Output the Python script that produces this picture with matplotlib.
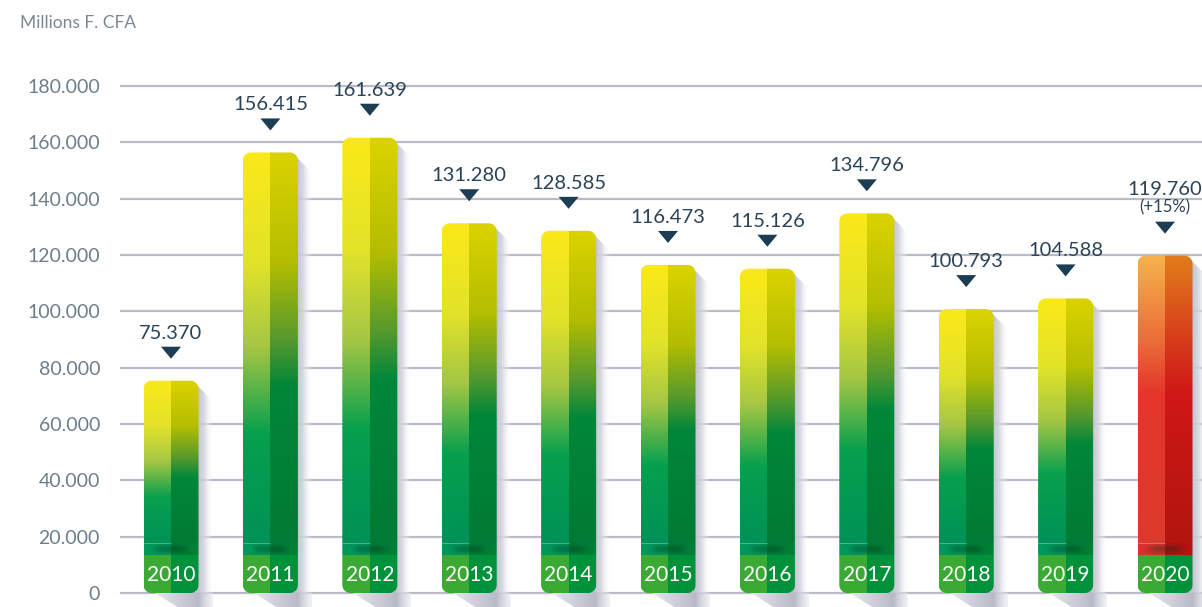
import numpy as np
import matplotlib
matplotlib.use("Agg")
import matplotlib.pyplot as plt
from matplotlib.patches import Polygon
from matplotlib.colors import to_rgb

# ---------------- data ----------------
years = ["2010", "2011", "2012", "2013", "2014", "2015", "2016", "2017", "2018", "2019", "2020"]
values = [75370, 156415, 161639, 131280, 128585, 116473, 115126, 134796, 100793, 104588, 119760]
highlight_year = "2020"
highlight_note = "(+15%)"
y_ticks = [0, 20000, 40000, 60000, 80000, 100000, 120000, 140000, 160000, 180000]
unit_label = "Millions F. CFA"

FONT = "Lato"
plt.rcParams["font.family"] = [FONT, "DejaVu Sans"]

W, H = 1202, 607
fig = plt.figure(figsize=(W / 100, H / 100), dpi=100)
fig.patch.set_facecolor("white")

ax_left_px = 120
ax = fig.add_axes([ax_left_px / W, 0, (W - ax_left_px) / W, 1])

spacing_px = 99.4
first_center_px = 171
base_px = 593       # pixel row of y=0 (from top)
top_px = 86         # pixel row of y=180000
PX_X = 1 / spacing_px
PX_Y = 180000 / (base_px - top_px)

xlim = ((ax_left_px - first_center_px) * PX_X, (W - first_center_px) * PX_X)
ylim = (-(H - base_px) * PX_Y, base_px * PX_Y)

def fmt(v):
    return f"{v:,}".replace(",", ".")

def vgrad(stops, n=256):
    """vertical gradient; stops: list of (t, color), t=0 top."""
    ts = np.array([s[0] for s in stops])
    cols = np.array([to_rgb(s[1]) for s in stops])
    t = np.linspace(0, 1, n)
    arr = np.stack([np.interp(t, ts, cols[:, i]) for i in range(3)], axis=-1)
    return arr[:, None, :]

def hgrad_rgba(stops, n=128):
    """horizontal gradient; stops: (t, color, alpha)."""
    ts = np.array([s[0] for s in stops])
    cols = np.array([to_rgb(s[1]) + (s[2],) for s in stops])
    t = np.linspace(0, 1, n)
    arr = np.stack([np.interp(t, ts, cols[:, i]) for i in range(4)], axis=-1)
    return arr[None, :, :]

def rounded_rect(x0, y0, x1, y1, r_px):
    """Rounded rectangle polygon in data coords, radius given in pixels."""
    rx, ry = r_px * PX_X, r_px * PX_Y
    pts = []
    corners = [(x1 - rx, y1 - ry, 0, 90), (x0 + rx, y1 - ry, 90, 180),
               (x0 + rx, y0 + ry, 180, 270), (x1 - rx, y0 + ry, 270, 360)]
    for cx, cy, a0, a1 in corners:
        for a in np.linspace(np.radians(a0), np.radians(a1), 12):
            pts.append((cx + rx * np.cos(a), cy + ry * np.sin(a)))
    return Polygon(pts, closed=True, transform=ax.transData, facecolor="none", edgecolor="none")

green_left = [(0, "#fbe918"), (0.28, "#e2e32a"), (0.5, "#a4c644"), (0.72, "#07a04e"), (1, "#009257")]
green_right = [(0, "#dbd300"), (0.28, "#b4be00"), (0.48, "#55992e"), (0.6, "#00873a"), (1, "#007a34")]
red_left = [(0, "#f6b34c"), (0.3, "#ea6c37"), (0.48, "#e4352b"), (1, "#db3a2c")]
red_right = [(0, "#e17d1a"), (0.3, "#d63b1b"), (0.48, "#cf1817"), (1, "#b3150f")]

bar_w_px = 55
box_h = 38 * PX_Y
strip_h = 12 * PX_Y
corner_px = 8

# soft dark blob (shadow on top of label box)
gx = np.linspace(-1, 1, 60)
gy = np.linspace(-1, 1, 30)
GX, GY = np.meshgrid(gx, gy)
blob = np.zeros((30, 60, 4))
blob[..., 1] = 0.18
blob[..., 2] = 0.08
blob[..., 3] = 0.35 * np.exp(-(GX ** 4) / 0.3 - (GY ** 2) / 0.5)

# gridlines
for t in y_ticks:
    ax.axhline(t, color="#b9bcc8", lw=1.6, zorder=0)

for i, (yr, v) in enumerate(zip(years, values)):
    x = i
    hw = bar_w_px / 2 * PX_X
    xl, xr = x - hw, x + hw
    hi = (yr == highlight_year)

    # shadow right of bar
    sh = Polygon([(xr - 3 * PX_X, v - 3 * PX_Y), (xr + 14 * PX_X, v - 20 * PX_Y),
                  (xr + 14 * PX_X, 0), (xr - 3 * PX_X, 0)], closed=True,
                 transform=ax.transData, facecolor="none", edgecolor="none")
    im = ax.imshow(hgrad_rgba([(0, "#b8bbc9", 1.0), (0.5, "#d3d5de", 0.85), (1, "#ffffff", 0.0)]),
                   extent=(xr - 3 * PX_X, xr + 14 * PX_X, 0, v),
                   aspect="auto", zorder=1, interpolation="bilinear")
    im.set_clip_path(sh)
    # shadow below baseline
    sh2 = Polygon([(xl + 11 * PX_X, 0), (xr + 14 * PX_X, 0),
                   (xr + 14 * PX_X, -15 * PX_Y), (xl + 35 * PX_X, -15 * PX_Y)], closed=True,
                  transform=ax.transData, facecolor="none", edgecolor="none")
    im2 = ax.imshow(hgrad_rgba([(0, "#e6e7ee", 1.0), (0.75, "#b8bac8", 1.0), (1, "#e8e9ef", 0.6)]),
                    extent=(xl + 11 * PX_X, xr + 14 * PX_X, -15 * PX_Y, 0),
                    aspect="auto", zorder=1, interpolation="bilinear")
    im2.set_clip_path(sh2)

    clip = rounded_rect(xl, 0, xr, v, corner_px)
    ax.add_patch(clip)
    gl, gr = (red_left, red_right) if hi else (green_left, green_right)
    body_bottom = box_h + strip_h
    for g, (a, b) in ((gl, (xl, x)), (gr, (x, xr))):
        imb = ax.imshow(vgrad(g), extent=(a, b, body_bottom, v), aspect="auto",
                        zorder=2, interpolation="bilinear")
        imb.set_clip_path(clip)
    # strip
    s_l, s_r = ("#d8302a", "#b31210") if hi else ("#00985a", "#007f37")
    for c, (a, b) in ((s_l, (xl, x)), (s_r, (x, xr))):
        ims = ax.imshow(np.array([[to_rgb(c)]]), extent=(a, b, box_h, body_bottom),
                        aspect="auto", zorder=2)
        ims.set_clip_path(clip)
    ax.plot([xl, x], [body_bottom, body_bottom], color="white", alpha=0.3, lw=0.8, zorder=2.5,
            solid_capstyle="butt")
    imbl = ax.imshow(blob, extent=(x - 22 * PX_X, x + 22 * PX_X, box_h, box_h + 11 * PX_Y),
                     aspect="auto", zorder=2.6, interpolation="bilinear")
    imbl.set_clip_path(clip)
    # label box
    for c, (a, b) in (("#3aaa35", (xl, x)), ("#00913b", (x, xr))):
        imx = ax.imshow(np.array([[to_rgb(c)]]), extent=(a, b, 0, box_h),
                        aspect="auto", zorder=2.7)
        imx.set_clip_path(clip)
    ax.text(x, box_h / 2 - 1 * PX_Y, yr, ha="center", va="center", color="white",
            fontsize=15, zorder=4)

    # triangle marker
    tip = v + 22 * PX_Y
    tri = Polygon([(x - 10 * PX_X, tip + 12 * PX_Y), (x + 10 * PX_X, tip + 12 * PX_Y), (x, tip)],
                  closed=True, facecolor="#1c3d54", edgecolor="none", zorder=4)
    ax.add_patch(tri)

    if hi:
        ax.annotate(highlight_note, (x, v), xytext=(0, 43 * 0.72), textcoords="offset points",
                    ha="center", va="baseline", fontsize=12, color="#2b4356", zorder=4)
        ax.annotate(fmt(v), (x, v), xytext=(0, 61 * 0.72), textcoords="offset points",
                    ha="center", va="baseline", fontsize=14.5, color="#2b4356", zorder=4)
    else:
        ax.annotate(fmt(v), (x, v), xytext=(0, 42 * 0.72), textcoords="offset points",
                    ha="center", va="baseline", fontsize=14.5, color="#2b4356", zorder=4)

ax.set_xlim(*xlim)
ax.set_ylim(*ylim)
ax.set_yticks(y_ticks)
ax.set_yticklabels([fmt(t) for t in y_ticks], fontsize=14, color="#6d7e8b")
ax.tick_params(axis="y", length=0, pad=20 * 0.72)
ax.set_xticks([])
for s in ax.spines.values():
    s.set_visible(False)
ax.patch.set_alpha(0)

fig.text(20 / W, 1 - 23 / H, unit_label, ha="left", va="center", fontsize=12.5, color="#7b8893")

fig.savefig("out.png", dpi=100, facecolor="white")
